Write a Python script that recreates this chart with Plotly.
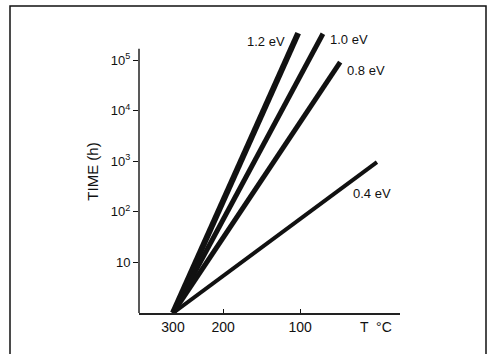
import math
import plotly.graph_objects as go

# Arrhenius lifetime lines: time to failure vs temperature for several activation energies
activation_ev = [1.2, 1.0, 0.8, 0.4]
start_temp_c = 300
start_time_h = 1
end_temp_c = [102, 78, 63, 35]
end_time_h = [3.4e5, 3.3e5, 9.1e4, 9.6e2]
line_widths = [6, 5, 5, 4]

x_tick_temps_c = [300, 200, 100]
y_tick_vals = [10, 100, 1e3, 1e4, 1e5]
y_tick_text = ["10", "10<sup>2</sup>", "10<sup>3</sup>", "10<sup>4</sup>", "10<sup>5</sup>"]

FONT = "Liberation Sans Narrow, Arial Narrow, Liberation Sans, Arial, sans-serif"
INK = "#111111"

Y_TOP_LOG = 5.593      # top of the plotting area (log10 hours)
Y_AXIS_TOP_LOG = 5.22  # where the drawn y axis line stops


def inv_t(t_c):
    """Reciprocal absolute temperature, 1000/K."""
    return 1000.0 / (t_c + 273.15)


fig = go.Figure()
for ev, t_end, time_end, w in zip(activation_ev, end_temp_c, end_time_h, line_widths):
    fig.add_trace(go.Scatter(
        x=[inv_t(start_temp_c), inv_t(t_end)],
        y=[start_time_h, time_end],
        mode="lines",
        line=dict(color=INK, width=w),
        cliponaxis=False,
        showlegend=False,
        hoverinfo="skip",
        name=f"{ev} eV",
    ))

# Energy labels next to line ends
label_pos = {
    1.2: dict(xshift=-11, yshift=-8, xanchor="right"),
    1.0: dict(xshift=5, yshift=-6, xanchor="left"),
    0.8: dict(xshift=5, yshift=-8, xanchor="left"),
    0.4: dict(xshift=-26, yshift=-31, xanchor="left"),
}
for ev, t_end, time_end in zip(activation_ev, end_temp_c, end_time_h):
    p = label_pos[ev]
    fig.add_annotation(
        x=inv_t(t_end), y=math.log10(time_end),
        text=f"{ev:.1f} eV", showarrow=False,
        xanchor=p["xanchor"], yanchor="middle",
        xshift=p["xshift"], yshift=p["yshift"],
        font=dict(family=FONT, size=13, color=INK),
    )

# Temperature unit label at the end of the x axis
fig.add_annotation(
    x=inv_t(36), y=0, text="T  °C", showarrow=False,
    yanchor="top", yshift=-4,
    font=dict(family=FONT, size=14, color=INK),
)

x_lo = inv_t(300) - 0.25
x_hi = inv_t(300) + 1.67

fig.update_xaxes(
    range=[x_lo, x_hi],
    tickvals=[inv_t(t) for t in x_tick_temps_c],
    ticktext=[str(t) for t in x_tick_temps_c],
    ticks="inside", ticklen=4, tickwidth=1.2, tickcolor=INK,
    showline=True, linecolor="#222222", linewidth=1.5,
    showgrid=False, zeroline=False,
    tickfont=dict(family=FONT, size=14, color=INK),
)
fig.update_yaxes(
    type="log", range=[0, Y_TOP_LOG],
    tickvals=y_tick_vals, ticktext=y_tick_text,
    ticks="outside", ticklen=5, tickwidth=1.2, tickcolor=INK,
    showline=False,
    showgrid=False, zeroline=False,
    tickfont=dict(family=FONT, size=13, color=INK),
    title=dict(text="TIME (h)", font=dict(family=FONT, size=15, color=INK), standoff=8),
)

# Y axis line, stopping a little above the top decade
fig.add_shape(
    type="line", xref="paper", yref="paper",
    x0=0, x1=0, y0=0, y1=Y_AXIS_TOP_LOG / Y_TOP_LOG,
    line=dict(color="#222222", width=1.5),
)

fig.update_layout(
    width=490, height=354,
    margin=dict(l=139, r=90, t=30, b=41),
    plot_bgcolor="white", paper_bgcolor="white",
    font=dict(family=FONT, color=INK),
)

# Outer frame around the whole figure (paper units of the plotting area)
plot_w = 490 - 139 - 90
plot_h = 354 - 30 - 41
fig.add_shape(
    type="rect", xref="paper", yref="paper",
    x0=(10 - 139) / plot_w, x1=(486 - 139) / plot_w,
    y0=(313 - 362) / plot_h, y1=(313 - 6) / plot_h,
    line=dict(color=INK, width=1.5), fillcolor="rgba(0,0,0,0)",
)

fig.write_html("out.html")
